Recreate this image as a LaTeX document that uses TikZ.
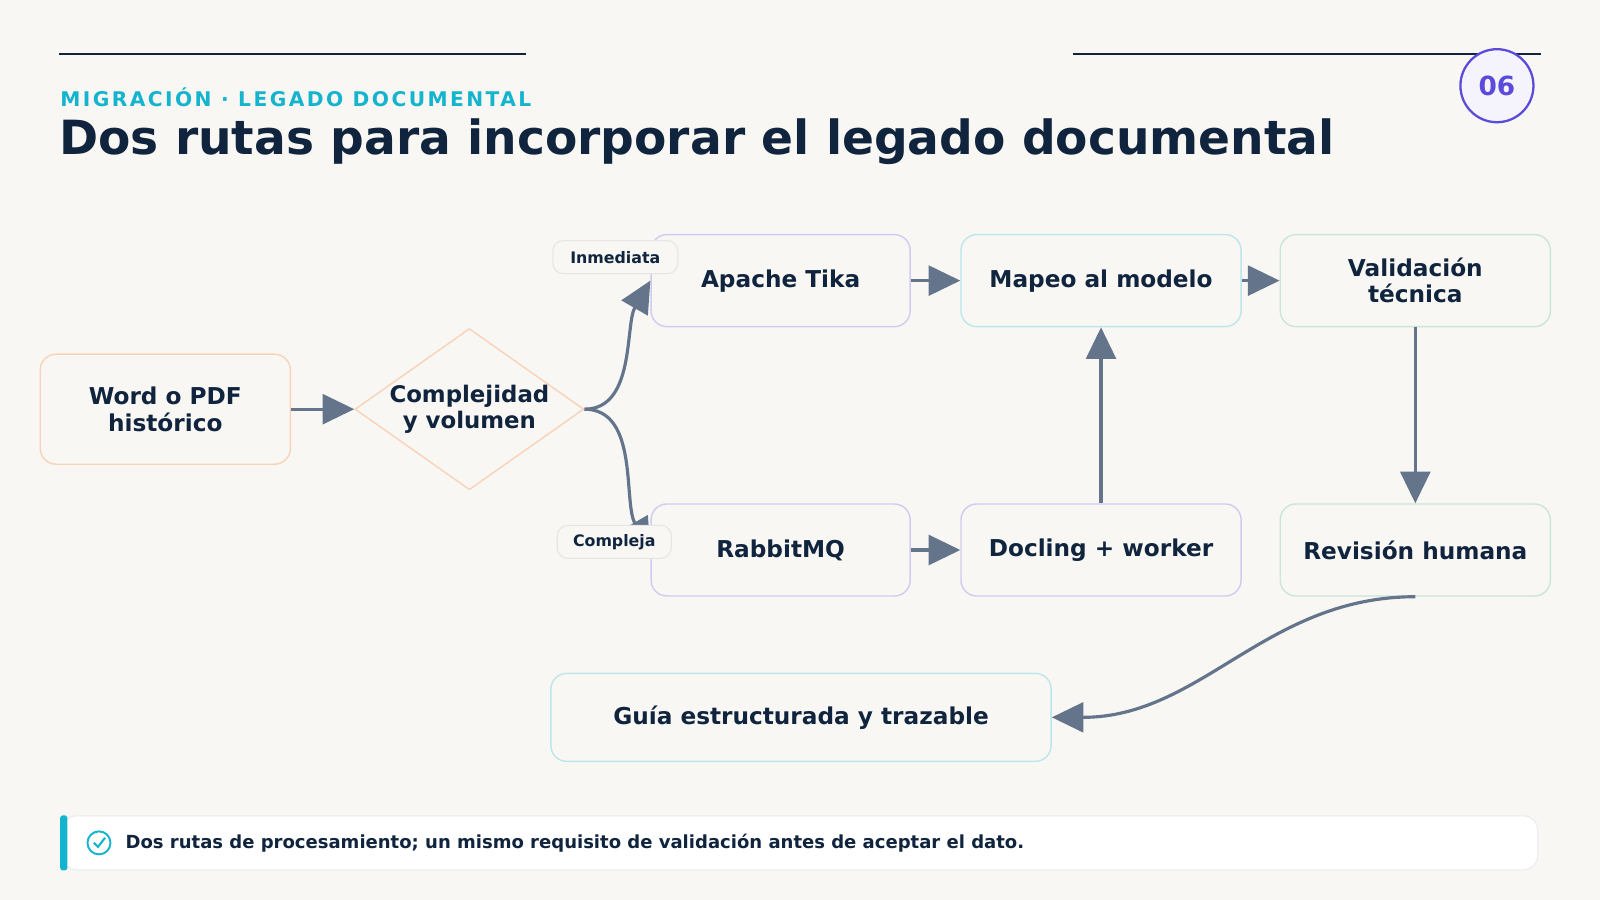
\documentclass[tikz,border=0pt]{standalone}
\usepackage{fontspec}
\setmainfont{DejaVu Sans}
\usetikzlibrary{shapes.geometric,arrows.meta,positioning}
\definecolor{bg}{HTML}{F8F7F4}
\definecolor{ink}{HTML}{10243E}
\definecolor{edge}{HTML}{64748B}
\definecolor{teal}{HTML}{14B4CE}
\definecolor{peach}{HTML}{F8D3B8}
\definecolor{lilac}{HTML}{CFCBF2}
\definecolor{aqua}{HTML}{BCE6EC}
\definecolor{mint}{HTML}{C9E6D6}
\definecolor{indigo}{HTML}{5B4BDB}
\begin{document}
\begin{tikzpicture}[x=0.0204cm,y=-0.0204cm,
    box/.style={rectangle, draw, line width=0.8pt, rounded corners=9pt, fill=bg, text=ink,
      font=\bfseries\fontsize{13.2}{15}\selectfont, align=center, minimum height=2.6cm},
    tag/.style={rectangle, draw=black!10, line width=0.6pt, rounded corners=6pt, fill=bg, text=ink,
      font=\bfseries\fontsize{9}{10}\selectfont, minimum height=0.66cm},
    arrow/.style={-{Triangle[length=18pt,width=17pt]}, line width=1.8pt, draw=edge}
]
\fill[bg] (0,0) rectangle (1568,882);

% Header
\draw[ink, line width=1.5pt] (58,53) -- (515,53);
\draw[ink, line width=1.5pt] (1052,53) -- (1510,53);
\node[anchor=west, text=teal, font=\bfseries\fontsize{11.5}{13}\selectfont\addfontfeature{LetterSpace=12}] (kicker) at (53,95)
  {MIGRACIÓN · LEGADO DOCUMENTAL};
\node[anchor=west, text=ink, font=\bfseries\fontsize{26.8}{32}\selectfont] (title) at (52,139)
  {Dos rutas para incorporar el legado documental};
\node[circle, draw=indigo, line width=1.3pt, fill=indigo!6, minimum size=1.46cm, text=indigo,
  font=\bfseries\fontsize{15}{17}\selectfont] (num) at (1467,84) {06};

% Nodes
\node[box, draw=peach, minimum width=5.0cm, minimum height=2.2cm] (word) at (162,401) {Word o PDF\\histórico};
\node[diamond, draw=peach, line width=0.8pt, fill=bg, text=ink, aspect=1.42, inner sep=0pt,
  minimum width=4.45cm, minimum height=3.15cm, align=center,
  font=\bfseries\fontsize{13}{15}\selectfont] (cplx) at (460,401) {Complejidad\\y volumen};
\node[box, draw=lilac, minimum width=5.18cm, minimum height=1.84cm] (tika) at (765,275) {Apache Tika};
\node[box, draw=aqua, minimum width=5.6cm, minimum height=1.84cm] (mapeo) at (1079,275) {Mapeo al modelo};
\node[box, draw=mint, minimum width=5.4cm, minimum height=1.84cm] (valid) at (1387,275) {Validación\\técnica};
\node[box, draw=lilac, minimum width=5.18cm, minimum height=1.84cm] (rabbit) at (765,539) {RabbitMQ};
\node[box, draw=lilac, minimum width=5.6cm, minimum height=1.84cm] (docling) at (1079,539) {Docling + worker};
\node[box, draw=mint, minimum width=5.4cm, minimum height=1.84cm] (review) at (1387,539) {Revisión humana};
\node[box, draw=aqua, minimum width=10cm, minimum height=1.76cm] (guide) at (785,703) {Guía estructurada y trazable};

% Connectors
\draw[arrow] (cplx.east) to[out=0, in=240, looseness=0.9] (tika.west);
\draw[arrow] (cplx.east) to[out=0, in=120, looseness=0.9] (rabbit.west);
\draw[arrow] (word) -- (cplx);
\draw[arrow] (tika) -- (mapeo);
\draw[arrow] (mapeo) -- (valid);
\draw[arrow] (rabbit) -- (docling);
\draw[arrow] (docling) -- (mapeo);
\draw[arrow] (valid) -- (review);
\draw[arrow] (review.south) to[out=180, in=0] (guide.east);

% Branch labels
\node[tag, minimum width=2.5cm] (fast) at (603,252) {Inmediata};
\node[tag, minimum width=2.28cm] (slow) at (602,531) {Compleja};

% Footer
\node[rectangle, draw=black!8, line width=0.6pt, rounded corners=8pt, fill=white,
  minimum width=29.5cm, minimum height=1.08cm] (note) at (784,826) {};
\fill[teal, rounded corners=1.5pt] (59,799) rectangle (66,853);
\node[circle, draw=teal, line width=1.1pt, minimum size=0.46cm, inner sep=0pt] (tick) at (97,826) {};
\draw[teal, line width=1.2pt] ([shift={(-5,0)}]tick.center) -- ([shift={(-1,4)}]tick.center) -- ([shift={(6,-5)}]tick.center);
\node[anchor=west, text=ink, font=\bfseries\fontsize{10.25}{12}\selectfont] (notetext) at (117,826)
  {Dos rutas de procesamiento; un mismo requisito de validación antes de aceptar el dato.};
\end{tikzpicture}
\end{document}
